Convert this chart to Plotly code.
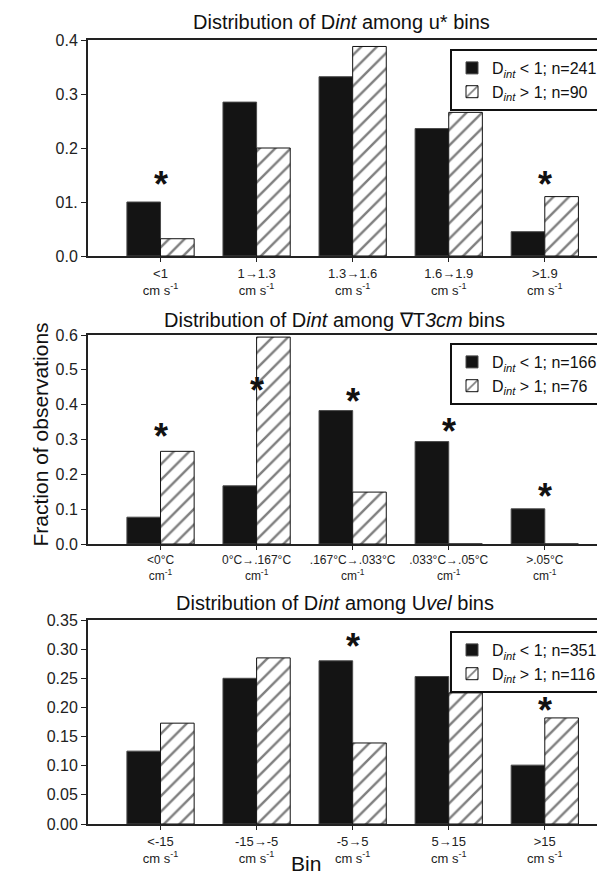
import plotly.graph_objects as go
from plotly.subplots import make_subplots

# ---------------- data ----------------
u_bins = ["&lt;1", "1→1.3", "1.3→1.6", "1.6→1.9", "&gt;1.9"]
u_unit = "cm s<sup>-1</sup>"
u_low = [0.100, 0.285, 0.332, 0.236, 0.045]
u_high = [0.032, 0.200, 0.388, 0.266, 0.110]
u_star = [0.140, None, None, None, 0.140]
u_n = (241, 90)

t_bins = ["&lt;0°C", "0°C→.167°C", ".167°C→.033°C", ".033°C→.05°C", "&gt;.05°C"]
t_unit = "cm<sup>-1</sup>"
t_low = [0.077, 0.167, 0.383, 0.294, 0.101]
t_high = [0.266, 0.594, 0.149, 0.0, 0.0]
t_star = [0.319, 0.453, 0.421, 0.335, 0.148]
t_n = (166, 76)

v_bins = ["&lt;-15", "-15→-5", "-5→5", "5→15", "&gt;15"]
v_unit = "cm s<sup>-1</sup>"
v_low = [0.125, 0.250, 0.280, 0.253, 0.101]
v_high = [0.173, 0.285, 0.139, 0.225, 0.182]
v_star = [None, None, 0.311, None, 0.202]
v_n = (351, 116)

titles = [
    "Distribution of D<i>int</i> among u* bins",
    "Distribution of D<i>int</i> among ∇T<i>3cm</i> bins",
    "Distribution of D<i>int</i> among U<i>vel</i> bins",
]
u_ticks = [0.0, 0.1, 0.2, 0.3, 0.4]
u_ticktext = ["0.0", "01.", "0.2", "0.3", "0.4"]
t_ticks = [0.0, 0.1, 0.2, 0.3, 0.4, 0.5, 0.6]
t_ticktext = ["0.0", "0.1", "0.2", "0.3", "0.4", "0.5", "0.6"]
v_ticks = [0.0, 0.05, 0.10, 0.15, 0.20, 0.25, 0.30, 0.35]
v_ticktext = ["0.00", "0.05", "0.10", "0.15", "0.20", "0.25", "0.30", "0.35"]

# ---------------- figure ----------------
FONT = "Liberation Sans, Arial, sans-serif"
W, H = 605, 880
ML, MR, MT, MB = 80, 0, 32, 64
PW = W - ML - MR
PH = H - MT - MB

def py(pix):
    return 1 - (pix - MT) / PH

def px(pix):
    return (pix - ML) / PW

fig = make_subplots(rows=3, cols=1)

panels = [
    (u_bins, u_unit, u_low, u_high, u_star, u_n, u_ticks, u_ticktext, 0.4, 13),
    (t_bins, t_unit, t_low, t_high, t_star, t_n, t_ticks, t_ticktext, 0.6, 12),
    (v_bins, v_unit, v_low, v_high, v_star, v_n, v_ticks, v_ticktext, 0.35, 13),
]
domains = [(py(248), py(32)), (py(536), py(327)), (py(816), py(612))]
title_y = [py(14), py(312), py(595)]
title_x = [px(333), px(326), px(327)]
legend_y = [py(41), py(335), py(623)]
legend_names = ["legend", "legend2", "legend3"]

for i, (bins, unit, low, high, star, n, tv, tt, ymax, xfs) in enumerate(panels):
    row = i + 1
    cats = [f"{b}<br>{unit}" for b in bins]
    lg = legend_names[i]
    fig.add_trace(go.Bar(
        x=cats, y=low, name=f"D<sub><i>int</i></sub> &lt; 1; n={n[0]}",
        marker=dict(color="#141414", line=dict(color="#4a4a4a", width=1)),
        legend=lg,
    ), row=row, col=1)
    fig.add_trace(go.Bar(
        x=cats, y=high, name=f"D<sub><i>int</i></sub> &gt; 1; n={n[1]}",
        marker=dict(color="white", line=dict(color="#111111", width=1),
                    pattern=dict(shape="/", fgcolor="#000000", bgcolor="white",
                                 size=11, solidity=0.22)),
        legend=lg,
    ), row=row, col=1)
    xa = "x" if i == 0 else f"x{row}"
    ya = "y" if i == 0 else f"y{row}"
    for c, s in zip(cats, star):
        if s is not None:
            fig.add_annotation(x=c, y=s, xref=xa, yref=ya, text="<b>*</b>",
                               showarrow=False, yanchor="middle", yshift=-4,
                               font=dict(size=36, color="#111111", family=FONT))
    fig.update_yaxes(range=[0, ymax], tickvals=tv, ticktext=tt,
                     domain=list(domains[i]), row=row, col=1)
    fig.update_xaxes(range=[-0.755, 4.71],
                     tickfont=dict(size=xfs, color="#222222", family=FONT),
                     row=row, col=1)
    fig.add_annotation(x=title_x[i], y=title_y[i], xref="paper", yref="paper",
                       text=titles[i], showarrow=False, yanchor="middle",
                       font=dict(size=20, color="#111111", family=FONT))
    lay = dict(x=px(442), xanchor="left", y=legend_y[i], yanchor="top",
               bgcolor="white", bordercolor="#111111", borderwidth=2,
               font=dict(size=16, color="#111111", family=FONT),
               traceorder="normal", itemwidth=30)
    fig.update_layout(**{lg: lay})

fig.update_xaxes(showline=True, linecolor="#222222", linewidth=2, mirror=True,
                 ticks="outside", ticklen=4, tickwidth=1, tickcolor="#222222",
                 showgrid=False, zeroline=False, tickangle=0)
fig.update_yaxes(showline=True, linecolor="#222222", linewidth=2, mirror=False,
                 ticks="outside", ticklen=5, tickwidth=1, tickcolor="#222222",
                 showgrid=False, zeroline=False,
                 tickfont=dict(size=16, color="#222222", family=FONT))

fig.add_annotation(x=px(18), y=py(427), xref="paper", yref="paper",
                   text="Fraction of observations", textangle=-90, showarrow=False,
                   font=dict(size=21, color="#111111", family=FONT))
fig.add_annotation(x=px(298), y=py(869), xref="paper", yref="paper",
                   text="Bin", showarrow=False,
                   font=dict(size=21, color="#111111", family=FONT))

fig.update_layout(
    width=W, height=H,
    margin=dict(l=ML, r=MR, t=MT, b=MB),
    paper_bgcolor="white", plot_bgcolor="white",
    barmode="group", bargap=0.3, bargroupgap=0.0,
    font=dict(family=FONT, color="#111111"),
    showlegend=True,
)

fig.write_html("out.html")
